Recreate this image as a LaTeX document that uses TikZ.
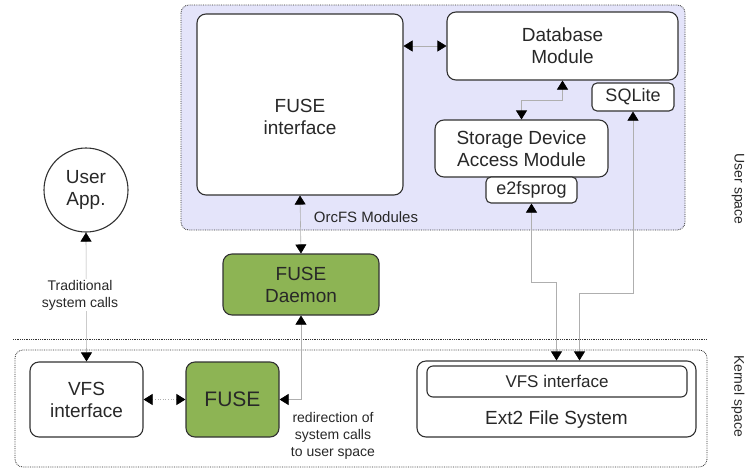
\documentclass[tikz,border=0pt]{standalone}
\usepackage{fontspec}
\setmainfont{Liberation Sans}
\usepackage{tikz}
\usetikzlibrary{positioning,calc,arrows.meta}
\definecolor{boxline}{RGB}{50,50,50}
\definecolor{txtgrey}{RGB}{40,40,40}
\definecolor{fusegreen}{RGB}{141,180,84}
\definecolor{orcfsbg}{RGB}{228,228,250}
\definecolor{linkgrey}{RGB}{175,175,175}

\begin{document}
\begin{tikzpicture}[x=1pt,y=-1pt,
    module/.style={draw=boxline, line width=1.1pt, rounded corners=9pt, fill=white, text=txtgrey, align=center, inner sep=0pt, font=\fontsize{19}{22}\selectfont},
    tagbox/.style={module, rounded corners=5pt, font=\fontsize{18}{20}\selectfont},
    greenbox/.style={module, fill=fusegreen},
    container/.style={draw=boxline, densely dotted, line width=0.8pt, rounded corners=8pt},
    note/.style={text=txtgrey, align=center, font=\fontsize{14}{17}\selectfont},
    link/.style={draw=linkgrey, line width=0.6pt, {Triangle[length=9pt,width=11pt,color=black]}-{Triangle[length=9pt,width=11pt,color=black]}}]
    \useasboundingbox (0,0) rectangle (749,469);

    \fill[orcfsbg, rounded corners=8pt] (181,5) rectangle (685,230);
    \draw[container] (181,5) rectangle (685,230);
    \draw[container] (15,350) rectangle (707,467);
    \draw[boxline, densely dotted, line width=0.8pt] (13,339) -- (707,339);

    \node[module, minimum width=206, minimum height=181] (fuseif) at (300,104.5) {};
    \node[module, draw=none, fill=none] (fuseiftxt) at (300,117) {FUSE\\interface};
    \node[module, minimum width=231, minimum height=68] (db) at (562.5,46) {Database\\Module};
    \node[tagbox, minimum width=82, minimum height=28] (sqlite) at (633,97) {SQLite};
    \node[module, minimum width=173, minimum height=57] (sdam) at (521.5,148.5) {Storage Device\\Access Module};
    \node[tagbox, minimum width=91, minimum height=26] (e2fs) at (531.5,190) {e2fsprog};
    \node[note, font=\fontsize{15}{17}\selectfont] (orcfs) at (366,217) {OrcFS Modules};

    \node[module, circle, minimum size=84] (userapp) at (86,190) {User\\App.};
    \node[greenbox, minimum width=156, minimum height=61] (daemon) at (301,284.5) {FUSE\\Daemon};

    \node[module, minimum width=113, minimum height=75] (vfs) at (86.5,399.5) {VFS\\interface};
    \node[greenbox, minimum width=93, minimum height=75, font=\fontsize{21}{24}\selectfont] (fusek) at (232.5,399.5) {FUSE};
    \node[note] (redir) at (333,436) {redirection of\\system calls\\to user space};
    \node[module, minimum width=279, minimum height=76] (ext2) at (556.5,399) {};
    \node[module, rounded corners=6pt, minimum width=260, minimum height=31, font=\fontsize{17}{20}\selectfont] (vfsif) at (557,381.5) {VFS interface};
    \node[module, draw=none, fill=none] (ext2txt) at (556.5,420) {Ext2 File System};

    \node[note, rotate=-90] (userspace) at (738,189) {User space};
    \node[note, rotate=-90] (kernelspace) at (738,396) {Kernel space};

    \draw[link] (fuseif.east |- db.west) -- (db.west);
    \draw[link] (db.south) -- ++(0,20) -| (sdam.north);
    \draw[link] (e2fs.south) -- ++(0,79) -| (ext2.north);
    \draw[link] (sqlite.south) -- ++(0,182) -| ([xshift=23pt]ext2.north);
    \draw[link] (fuseif.south) -- (daemon.north);
    \draw[link] (daemon.south) |- (fusek.east);
    \draw[link] (userapp.south) -- (vfs.north);
    \draw[link, dotted] (vfs.east) -- (fusek.west);
    \node[note, fill=white, inner sep=1pt] (tradcalls) at (80,295) {Traditional\\system calls};
\end{tikzpicture}
\end{document}
